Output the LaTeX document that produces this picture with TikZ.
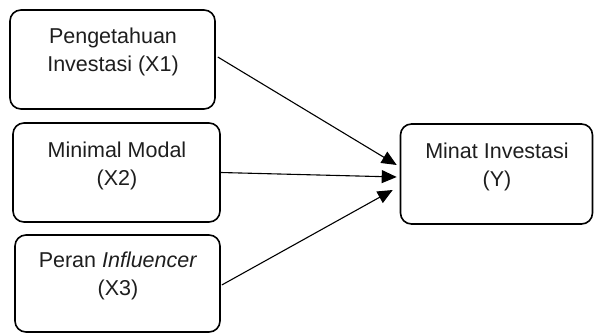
\documentclass[tikz,border=0pt]{standalone}
\usepackage{fontspec}
\setmainfont{Liberation Sans}
\usetikzlibrary{arrows.meta}
\definecolor{txt}{HTML}{1E1E1E}
\begin{document}
\begin{tikzpicture}[x=1pt,y=-1pt,
  box/.style={draw=black,line width=1.6pt,rounded corners=11pt,inner sep=0pt},
  lbl/.style={text=txt,align=center,font=\fontsize{21.5}{28.5}\selectfont,inner sep=0pt},
  conn/.style={line width=1.1pt,-{Triangle[length=15pt,width=13pt]}}]
\useasboundingbox (0,0) rectangle (594,333);
% boxes
\node[box,minimum width=205pt,minimum height=99pt] (b1) at (112.5,59.5) {};
\node[box,minimum width=207pt,minimum height=99pt] (b2) at (116.5,172.5) {};
\node[box,minimum width=205pt,minimum height=97pt] (b3) at (117.5,283.5) {};
\node[box,minimum width=192pt,minimum height=100pt] (by) at (496.5,174) {};
% labels
\node[lbl] (t1) at (113,52) {Pengetahuan\\Investasi (X1)};
\node[lbl] (t2) at (117,166) {Minimal Modal\\(X2)};
\node[lbl] (t3) at (118,276) {Peran \textit{Influencer}\\(X3)};
\node[lbl] (ty) at (497,167) {Minat Investasi\\(Y)};
% end points
\coordinate (s1) at ([shift={(2,-2.5)}]b1.east);
\coordinate (s3) at ([shift={(1,1.5)}]b3.east);
\coordinate (e1) at ([shift={(-3,-9)}]by.west);
\coordinate (e2) at ([shift={(-3,3)}]by.west);
\coordinate (e3) at ([shift={(-7,16)}]by.west);
\draw[conn] (s1) -- (e1);
\draw[conn] (b2.east) -- (e2);
\draw[conn] (s3) -- (e3);
\end{tikzpicture}
\end{document}
